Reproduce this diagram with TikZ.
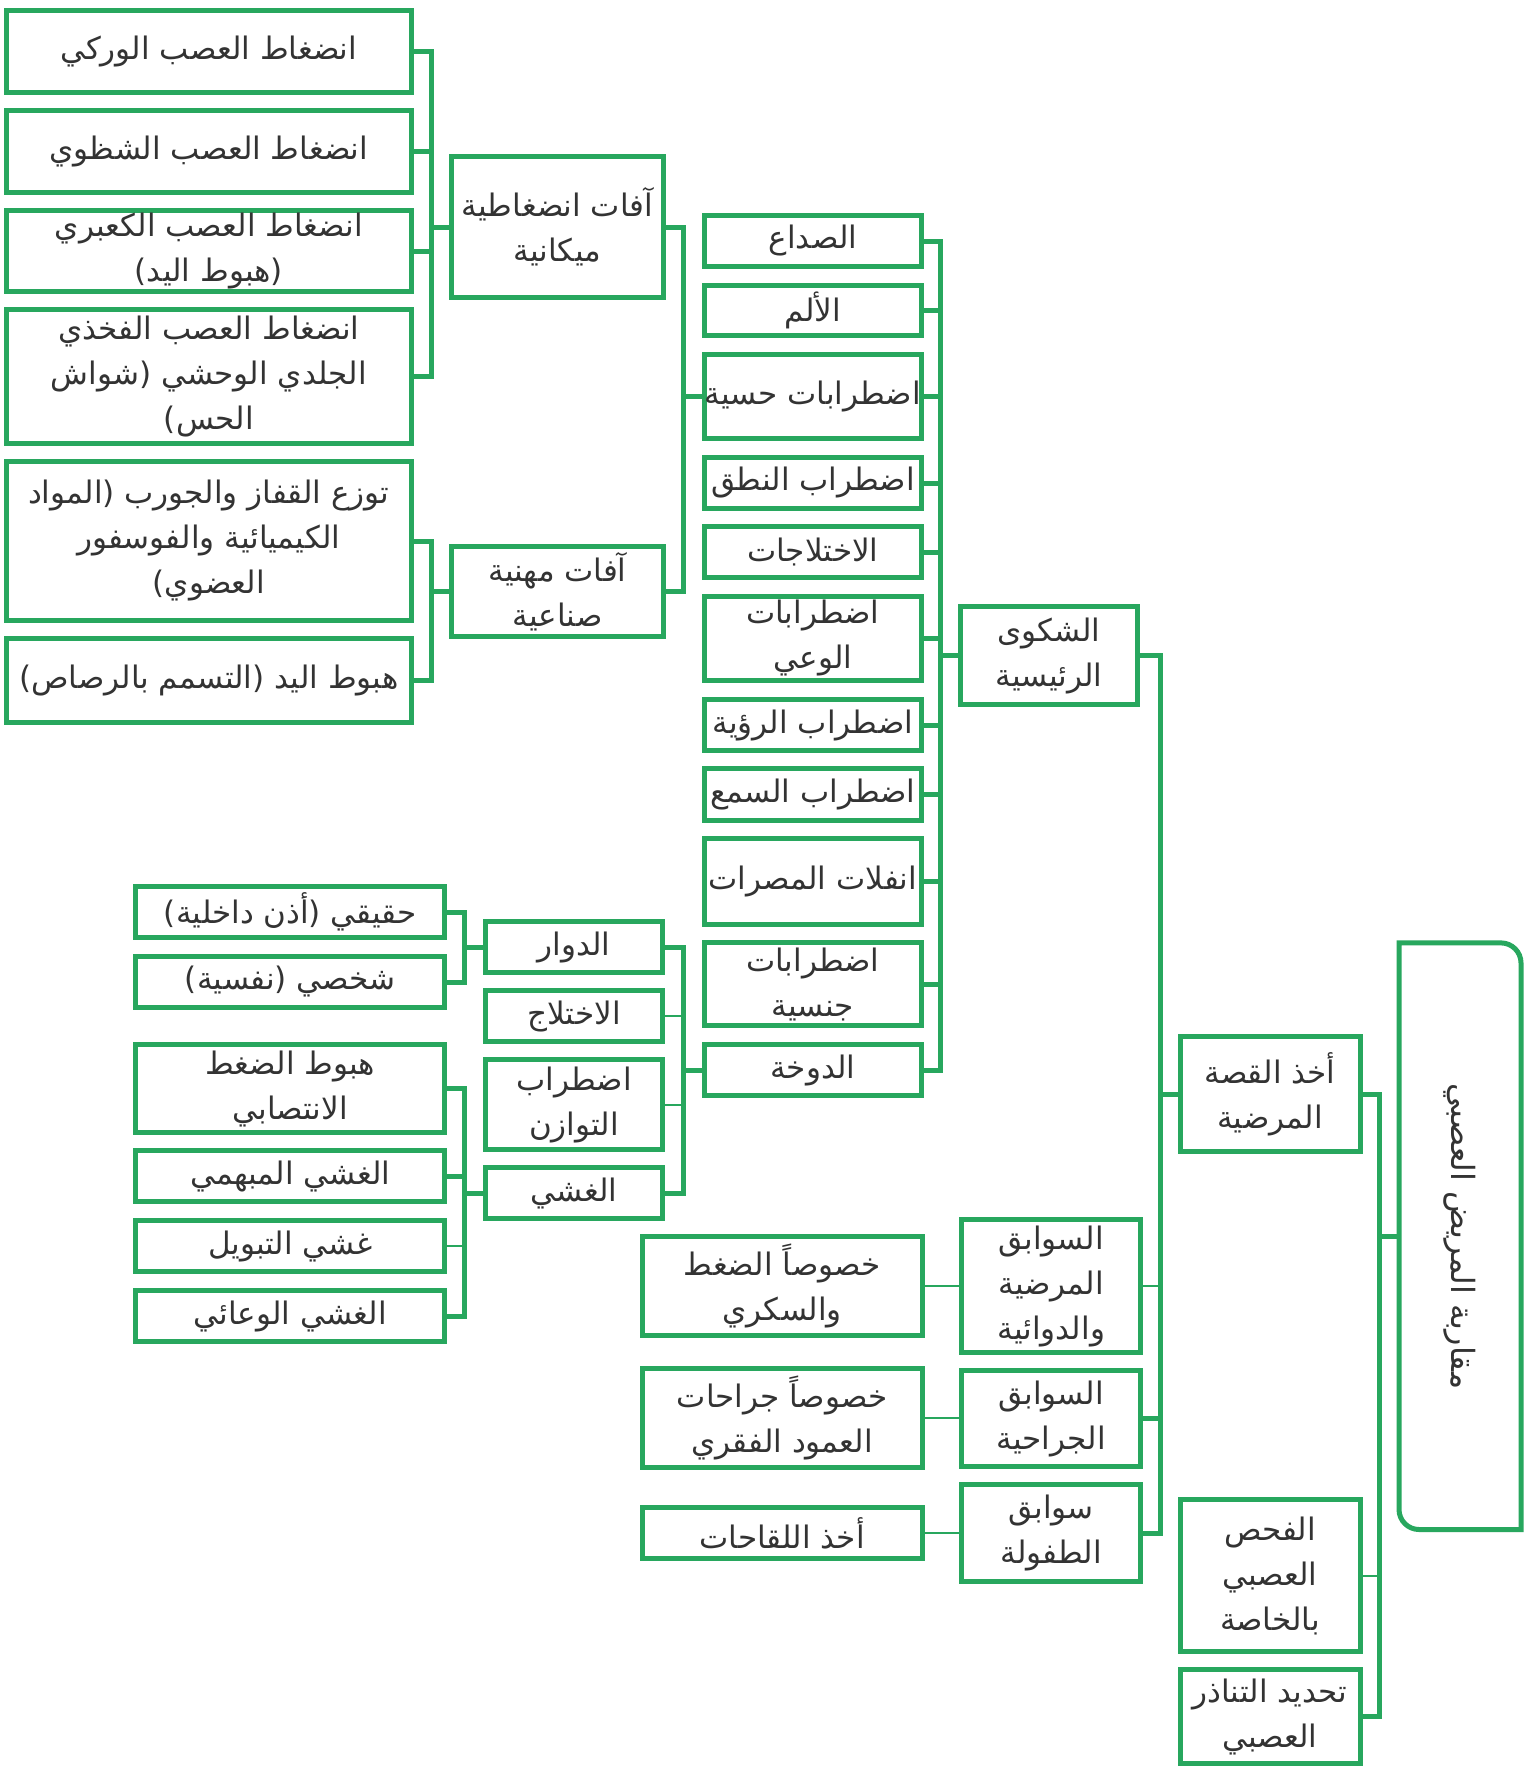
\documentclass[tikz,border=0pt]{standalone}
\usepackage{fontspec}
\usetikzlibrary{calc}
\TeXXeTstate=1
\newfontfamily\arabicfont[Script=Arabic]{DejaVu Sans}
\definecolor{grn}{HTML}{28A75E}
\definecolor{txt}{HTML}{333333}
\newcommand\myR[1]{\beginR #1\endR}
\begin{document}
\begin{tikzpicture}[x=1pt,y=-1pt,
  bx/.style={draw=grn, line width=5pt, fill=white, inner sep=0pt, align=center,
    font=\arabicfont\fontsize{31}{45}\selectfont, text=txt},
  colA/.style={bx, minimum width=405pt},
  colB/.style={bx, minimum width=212pt},
  colC/.style={bx, minimum width=217pt},
  colD/.style={bx, minimum width=177pt},
  colE/.style={bx, minimum width=177pt},
  colG/.style={bx, minimum width=309pt},
  colH/.style={bx, minimum width=280pt},
  colI/.style={bx, minimum width=179pt},
  colJ/.style={bx, minimum width=180pt},
  thk/.style={draw=grn, line width=5pt},
  thn/.style={draw=grn, line width=2pt}]
\useasboundingbox[fill=white] (0,0) rectangle (1535,1769);

% column A
\node[colA, minimum height=82pt]  (A1) at (208.8,51.5)  {\myR{انضغاط العصب الوركي}};
\node[colA, minimum height=82pt]  (A2) at (208.8,151.5) {\myR{انضغاط العصب الشظوي}};
\node[colA, minimum height=81pt]  (A3) at (208.8,251)   {\myR{انضغاط العصب الكعبري}\\\myR{(هبوط اليد)}};
\node[colA, minimum height=134pt] (A4) at (208.8,376.5) {\myR{انضغاط العصب الفخذي}\\\myR{الجلدي الوحشي (شواش}\\\myR{الحس)}};
\node[colA, minimum height=159pt] (A5) at (208.8,541)   {\myR{توزع القفاز والجورب (المواد}\\\myR{الكيميائية والفوسفور}\\\myR{العضوي)}};
\node[colA, minimum height=84pt]  (A6) at (208.8,680.5) {\myR{هبوط اليد (التسمم بالرصاص)}};

% column B
\node[colB, minimum height=141pt] (B1) at (557.5,227)   {\myR{آفات انضغاطية}\\\myR{ميكانية}};
\node[colB, minimum height=90pt]  (B2) at (557.5,591.5) {\myR{آفات مهنية}\\\myR{صناعية}};

% column C
\node[colC, minimum height=51pt] (C1)  at (812.9,241)   {\myR{الصداع}};
\node[colC, minimum height=50pt] (C2)  at (812.9,310.5) {\myR{الألم}};
\node[colC, minimum height=84pt] (C3)  at (812.9,396.5) {\myR{اضطرابات حسية}};
\node[colC, minimum height=51pt] (C4)  at (812.9,483)   {\myR{اضطراب النطق}};
\node[colC, minimum height=51pt] (C5)  at (812.9,552)   {\myR{الاختلاجات}};
\node[colC, minimum height=84pt] (C6)  at (812.9,638.5) {\myR{اضطرابات}\\\myR{الوعي}};
\node[colC, minimum height=51pt] (C7)  at (812.9,725)   {\myR{اضطراب الرؤية}};
\node[colC, minimum height=52pt] (C8)  at (812.9,794.5) {\myR{اضطراب السمع}};
\node[colC, minimum height=86pt] (C9)  at (812.9,881.5) {\myR{انفلات المصرات}};
\node[colC, minimum height=83pt] (C10) at (812.9,984)   {\myR{اضطرابات}\\\myR{جنسية}};
\node[colC, minimum height=51pt] (C11) at (812.9,1070)  {\myR{الدوخة}};

% D
\node[colD, minimum height=98pt] (D1) at (1048.9,655.5) {\myR{الشكوى}\\\myR{الرئيسية}};

% column E
\node[colE, minimum height=51pt] (E1) at (574,947)    {\myR{الدوار}};
\node[colE, minimum height=51pt] (E2) at (574,1016)   {\myR{الاختلاج}};
\node[colE, minimum height=90pt] (E3) at (574,1104.5) {\myR{اضطراب}\\\myR{التوازن}};
\node[colE, minimum height=51pt] (E4) at (574,1193)   {\myR{الغشي}};

% column G
\node[colG, minimum height=51pt] (G1) at (290.3,912)    {\myR{حقيقي (أذن داخلية)}};
\node[colG, minimum height=51pt] (G2) at (290.3,982)    {\myR{شخصي (نفسية)}};
\node[colG, minimum height=88pt] (G3) at (290.3,1088.5) {\myR{هبوط الضغط}\\\myR{الانتصابي}};
\node[colG, minimum height=51pt] (G4) at (290.3,1176)   {\myR{الغشي المبهمي}};
\node[colG, minimum height=51pt] (G5) at (290.3,1246)   {\myR{غشي التبويل}};
\node[colG, minimum height=51pt] (G6) at (290.3,1316)   {\myR{الغشي الوعائي}};

% column H
\node[colH, minimum height=99pt] (H1) at (782.1,1286) {\myR{خصوصاً الضغط}\\\myR{والسكري}};
\node[colH, minimum height=99pt] (H2) at (782.1,1418) {\myR{خصوصاً جراحات}\\\myR{العمود الفقري}};
\node[colH, minimum height=51pt] (H3) at (782.1,1533) {\myR{أخذ اللقاحات}};

% column I
\node[colI, minimum height=133pt] (I1) at (1051.2,1286)   {\myR{السوابق}\\\myR{المرضية}\\\myR{والدوائية}};
\node[colI, minimum height=96pt]  (I2) at (1051.2,1418.5) {\myR{السوابق}\\\myR{الجراحية}};
\node[colI, minimum height=97pt]  (I3) at (1051.2,1533)   {\myR{سوابق}\\\myR{الطفولة}};

% column J
\node[colJ, minimum height=115pt] (J1) at (1270,1094)   {\myR{أخذ القصة}\\\myR{المرضية}};
\node[colJ, minimum height=152pt] (J2) at (1270,1575.5) {\myR{الفحص}\\\myR{العصبي}\\\myR{بالخاصة}};
\node[colJ, minimum height=94pt]  (J3) at (1270,1716.5) {\myR{تحديد التناذر}\\\myR{العصبي}};

% root (rotated clockwise: node south = page left, node north = page right)
\node[rotate=-90, inner sep=0pt, minimum width=586.2pt, minimum height=121.6pt, text=txt,
  font=\arabicfont\fontsize{32}{45}\selectfont] (root) at (1460,1236.2) {\myR{مقاربة المريض العصبي}};
\draw[thk, line join=miter]
  (root.south west) -- ($(root.north west)+(-20,0)$)
  .. controls ($(root.north west)+(-9,0)$) and ($(root.north west)+(0,9)$) .. ($(root.north west)+(0,20)$)
  -- (root.north east) -- ($(root.south east)+(20,0)$)
  .. controls ($(root.south east)+(9,0)$) and ($(root.south east)+(0,-9)$) .. ($(root.south east)+(0,-20)$)
  -- cycle;

% connector columns
\coordinate (vA) at (431,0);
\coordinate (vB) at (683,0);
\coordinate (vC) at (940,0);
\coordinate (vD) at (1160,0);
\coordinate (vE) at (683.5,0);
\coordinate (vG) at (464.4,0);
\coordinate (vJ) at (1379.3,0);

% A -> B1
\draw[thk] (A1.east) -- (A1.east -| vA) -- (A4.east -| vA) -- (A4.east);
\draw[thk] (A2.east) -- (A2.east -| vA);
\draw[thk] (A3.east) -- (A3.east -| vA);
\draw[thk] (B1.west) -- (B1.west -| vA);
% A -> B2
\draw[thk] (A5.east) -- (A5.east -| vA) -- (A6.east -| vA) -- (A6.east);
\draw[thk] (B2.west) -- (B2.west -| vA);
% B -> C3
\draw[thk] (B1.east) -- (B1.east -| vB) -- (B2.east -| vB) -- (B2.east);
\draw[thk] (C3.west) -- (C3.west -| vB);
% C -> D1
\draw[thk] (C1.east) -- (C1.east -| vC) -- (C11.east -| vC) -- (C11.east);
\foreach \n in {C2,C3,C4,C5,C6,C7,C8,C9,C10} {\draw[thk] (\n.east) -- (\n.east -| vC);}
\draw[thk] (D1.west) -- (D1.west -| vC);
% E -> C11
\draw[thk] (E1.east) -- (E1.east -| vE) -- (E4.east -| vE) -- (E4.east);
\draw[thn] (E2.east) -- (E2.east -| vE);
\draw[thn] (E3.east) -- (E3.east -| vE);
\draw[thk] (C11.west) -- (C11.west -| vE);
% G -> E1
\draw[thk] (G1.east) -- (G1.east -| vG) -- (G2.east -| vG) -- (G2.east);
\draw[thk] (E1.west) -- (E1.west -| vG);
% G -> E4
\draw[thk] (G3.east) -- (G3.east -| vG) -- (G6.east -| vG) -- (G6.east);
\draw[thk] (G4.east) -- (G4.east -| vG);
\draw[thn] (G5.east) -- (G5.east -| vG);
\draw[thk] (E4.west) -- (E4.west -| vG);
% H -> I
\draw[thn] (H1.east) -- (H1.east -| I1.west);
\draw[thn] (H2.east) -- (H2.east -| I2.west);
\draw[thn] (H3.east) -- (H3.east -| I3.west);
% D1, I -> J1
\draw[thk] (D1.east) -- (D1.east -| vD) -- (I3.east -| vD) -- (I3.east);
\draw[thn] (I1.east) -- (I1.east -| vD);
\draw[thk] (I2.east) -- (I2.east -| vD);
\draw[thk] (J1.west) -- (J1.west -| vD);
% J -> root
\draw[thk] (J1.east) -- (J1.east -| vJ) -- (J3.east -| vJ) -- (J3.east);
\draw[thn] (J2.east) -- (J2.east -| vJ);
\draw[thk] (root.south) -- (root.south -| vJ);
\end{tikzpicture}
\end{document}
